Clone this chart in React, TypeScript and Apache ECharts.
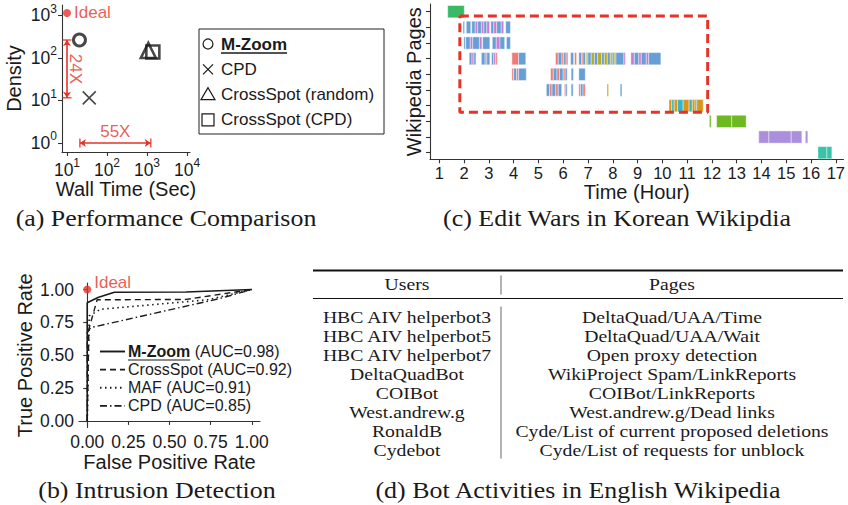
import React, { useEffect, useRef } from "react";
import * as echarts from "echarts";

// ---------------- (a) Performance comparison ----------------
const perfMethods = ["M-Zoom", "CPD", "CrossSpot (random)", "CrossSpot (CPD)"];
const perfWallTime = [20.5, 36, 1080, 1400];
const perfDensity = [265, 11.5, 150, 138];
const idealA = [10, 1150];
const speedupArrow = [[21, 1], [1240, 1]]; // 55X
const densityArrow = [[10, 11.6], [10, 265]]; // 24X
const speedupLabel = "55X";
const densityLabel = "24X";
const xTicksA = [10, 100, 1000, 10000];
const yTicksA = [1, 10, 100, 1000];

// ---------------- (b) ROC curves ----------------
const rocNames = ["M-Zoom", "CrossSpot", "MAF", "CPD"];
const rocAUC = ["0.98", "0.92", "0.91", "0.85"];
const rocMZoom = [[0, 0], [0, 0.9], [0.065, 0.94], [0.165, 0.98], [0.6, 0.982], [1, 1]];
const rocCrossSpot = [[0, 0], [0.01, 0.7], [0.06, 0.922], [0.6, 0.925], [1, 1]];
const rocMAF = [[0, 0], [0.012, 0.8], [0.08, 0.85], [0.73, 0.922], [1, 1]];
const rocCPD = [[0, 0], [0, 0.67], [0.02, 0.71], [0.8, 0.93], [1, 1]];
const idealB = [0, 1];
const rocTicks = [0, 0.25, 0.5, 0.75, 1];

// ---------------- (c) Edit wars (hour start, hour end, editor key) ----------------
const hourTicks = [1, 2, 3, 4, 5, 6, 7, 8, 9, 10, 11, 12, 13, 14, 15, 16, 17];
const pageRows = [1, 2, 3, 4, 5, 6, 7, 8, 9, 10];
const page1 = [[1.34, 2.01, "G"]];
const page2 = [
  [1.96, 2.02, "B"], [2.09, 2.27, "B"], [2.31, 2.45, "B"], [2.45, 2.55, "P"], [2.55, 2.7, "B"],
  [2.7, 2.8, "P"], [2.8, 2.92, "B"], [2.92, 3.03, "P"], [3.08, 3.2, "B"], [3.2, 3.32, "P"],
  [3.32, 3.5, "B"], [3.5, 3.6, "P"], [3.68, 3.87, "B"],
];
const page3 = [
  [1.99, 2.05, "B"], [2.07, 2.25, "B"], [2.25, 2.35, "P"], [2.35, 2.62, "B"], [2.62, 2.72, "P"],
  [2.75, 3.04, "B"], [3.14, 3.3, "B"], [3.3, 3.45, "P"], [3.45, 3.64, "B"], [3.71, 3.87, "B"],
];
const page4 = [
  [2.21, 2.32, "B"], [2.32, 2.4, "P"], [2.4, 2.48, "B"],
  [2.7, 2.85, "B"], [2.85, 2.92, "P"], [2.92, 3.04, "B"],
  [3.11, 3.2, "B"], [3.2, 3.28, "P"], [3.28, 3.33, "R"],
  [3.93, 4.2, "R"], [4.2, 4.49, "B"],
  [5.69, 5.8, "R"], [5.8, 5.95, "B"], [5.95, 6.02, "R"], [6.02, 6.12, "B"], [6.12, 6.19, "R"],
  [6.3, 6.42, "B"], [6.46, 6.54, "R"],
  [6.63, 6.75, "B"], [6.75, 6.8, "R"], [6.8, 6.9, "B"],
  [6.93, 7.0, "O"], [7.0, 7.13, "B"], [7.13, 7.26, "O"], [7.26, 7.39, "B"], [7.39, 7.55, "O"],
  [7.55, 7.66, "B"], [7.66, 7.78, "O"], [7.78, 7.9, "B"], [7.9, 7.98, "O"], [7.98, 8.06, "B"],
  [8.06, 8.13, "O"], [8.13, 8.45, "B"], [8.45, 8.51, "P"],
  [8.73, 8.87, "P"], [8.87, 9.05, "B"], [9.05, 9.15, "P"], [9.15, 9.35, "B"], [9.35, 9.45, "P"],
  [9.45, 9.94, "B"],
];
const page5 = [
  [3.93, 4.0, "R"], [4.0, 4.12, "B"], [4.12, 4.2, "R"], [4.2, 4.51, "B"],
  [5.49, 5.6, "R"], [5.6, 5.75, "B"], [5.75, 5.85, "R"], [5.85, 6.0, "B"], [6.0, 6.08, "R"],
  [6.08, 6.16, "B"], [6.32, 6.41, "B"], [6.63, 6.89, "B"],
];
const page6 = [
  [5.32, 5.45, "B"], [5.45, 5.55, "R"], [5.55, 5.7, "B"], [5.7, 5.8, "R"], [5.8, 5.94, "B"],
  [6.05, 6.1, "R"], [6.1, 6.16, "B"], [6.32, 6.4, "B"],
  [6.63, 6.7, "R"], [6.7, 6.8, "B"], [6.8, 6.89, "R"],
  [7.77, 7.82, "O"], [8.3, 8.37, "B"],
];
const page7 = [
  [10.27, 10.38, "N"], [10.38, 10.48, "T"], [10.48, 10.61, "N"], [10.61, 10.84, "T"],
  [10.84, 11.08, "N"], [11.08, 11.21, "T"], [11.21, 11.32, "N"], [11.32, 11.39, "T"], [11.39, 11.65, "N"],
];
const page8 = [[11.9, 11.97, "L"], [12.19, 12.8, "L"], [12.8, 13.38, "L"]];
const page9 = [[13.89, 14.3, "V"], [14.3, 15.2, "V"], [15.2, 15.63, "V"], [15.77, 15.87, "V"]];
const page10 = [[16.28, 16.64, "Q"], [16.64, 16.84, "Q"]];
const editWarBox = [1.83, 11.83, 1.27, 7.42]; // x0, x1, y0, y1

// ---------------- (d) Bot table ----------------
const tableHeaders = ["Users", "Pages"];
const botUsers = [
  "HBC AIV helperbot3", "HBC AIV helperbot5", "HBC AIV helperbot7", "DeltaQuadBot",
  "COIBot", "West.andrew.g", "RonaldB", "Cydebot",
];
const botPages = [
  "DeltaQuad/UAA/Time", "DeltaQuad/UAA/Wait", "Open proxy detection",
  "WikiProject Spam/LinkReports", "COIBot/LinkReports", "West.andrew.g/Dead links",
  "Cyde/List of current proposed deletions", "Cyde/List of requests for unblock",
];

const captions = [
  "(a) Performance Comparison",
  "(c) Edit Wars in Korean Wikipdia",
  "(b) Intrusion Detection",
  "(d) Bot Activities in English Wikipedia",
];

// ---------------- styling ----------------
const FONT = "'Liberation Sans', Arial, Helvetica, sans-serif";
const SERIF = "'Liberation Serif', 'Times New Roman', serif";
const RED = "#e5332a";
const INK = "#1a1a1a";
const PALETTE: Record<string, string> = {
  G: "#2db55d", B: "#5d9ad3", P: "#c675cf", R: "#ee7470", O: "#b3a51a",
  N: "#d9900c", T: "#2ab3c6", L: "#66b414", V: "#a689d9", Q: "#2dbfa3",
};

function measure(text: string, font: string): number {
  const c = document.createElement("canvas").getContext("2d");
  if (!c) return text.length * 8;
  c.font = font;
  return c.measureText(text).width;
}

function axisBase(extra: any) {
  return {
    axisLine: { show: true, lineStyle: { color: "#333", width: 1.1 } },
    splitLine: { show: false },
    nameLocation: "middle",
    nameTextStyle: { fontFamily: FONT, fontSize: 20, color: INK },
    ...extra,
  };
}

function tick(values: number[]) {
  return { show: true, length: 4, customValues: values, lineStyle: { color: "#333", width: 1.1 } };
}

export default function App() {
  const ref = useRef<HTMLDivElement>(null);

  useEffect(() => {
    if (!ref.current) return;
    const chart = echarts.init(ref.current, null, { renderer: "svg" });

    const logLabel = {
      customValues: [] as number[],
      margin: 5,
      formatter: (v: number) => `{b|10}{s|${Math.round(Math.log10(v))}}`,
      rich: {
        b: { fontFamily: FONT, fontSize: 17.5, color: INK },
        s: { fontFamily: FONT, fontSize: 12, color: INK, padding: [0, 0, 13, 0] },
      },
    };

    const segRows = [page1, page2, page3, page4, page5, page6, page7, page8, page9, page10];
    const segData: any[] = [];
    segRows.forEach((row, i) => {
      row.forEach((s: any) => {
        segData.push({ value: [s[0], s[1], pageRows[i]], itemStyle: { color: PALETTE[s[2]] } });
      });
    });

    const [bx0, bx1, by0, by1] = editWarBox;

    const rocSeries = [rocMZoom, rocCrossSpot, rocMAF, rocCPD];
    const rocDash: any[] = ["solid", [6, 4], [1.5, 3.5], [7, 3, 1.5, 3]];
    const rocWidth = [1.6, 1.4, 1.6, 1.4];

    // ---- legend (a) ----
    const legA: any[] = [
      { type: "rect", shape: { x: 199, y: 29, width: 185, height: 105 }, style: { fill: "#fff", stroke: "#222", lineWidth: 1 } },
    ];
    perfMethods.forEach((name, i) => {
      const cy = 44 + i * 25.3;
      const cx = 208;
      const st = { fill: "none", stroke: INK, lineWidth: 1.2 };
      if (i === 0) legA.push({ type: "circle", shape: { cx, cy, r: 5 }, style: st });
      if (i === 1) {
        legA.push({ type: "line", shape: { x1: cx - 5, y1: cy - 5, x2: cx + 5, y2: cy + 5 }, style: st });
        legA.push({ type: "line", shape: { x1: cx - 5, y1: cy + 5, x2: cx + 5, y2: cy - 5 }, style: st });
      }
      if (i === 2) legA.push({ type: "polygon", shape: { points: [[cx, cy - 7], [cx - 7, cy + 5], [cx + 7, cy + 5]] }, style: st });
      if (i === 3) legA.push({ type: "rect", shape: { x: cx - 6, y: cy - 6, width: 12, height: 12 }, style: st });
      const bold = i === 0;
      legA.push({
        type: "text", x: 221, y: cy,
        style: { text: name, fontFamily: FONT, fontSize: 17, fontWeight: bold ? "bold" : "normal", fill: INK, verticalAlign: "middle", align: "left" },
      });
      if (bold) {
        const w = measure(name, `bold 17px ${FONT}`);
        legA.push({ type: "line", shape: { x1: 221, y1: cy + 9, x2: 221 + w, y2: cy + 9 }, style: { stroke: INK, lineWidth: 1.3 } });
      }
    });

    // ---- legend (b) ----
    const legB: any[] = [];
    const lbFont = 16;
    rocNames.forEach((name, i) => {
      const cy = 351.5 + i * 18.1;
      legB.push({
        type: "line", shape: { x1: 100, y1: cy, x2: 125, y2: cy },
        style: { stroke: INK, lineWidth: rocWidth[i] + 0.3, lineDash: rocDash[i] === "solid" ? null : rocDash[i] },
      });
      const bold = i === 0;
      const nameFont = `${bold ? "bold " : ""}${lbFont}px ${FONT}`;
      const w = measure(name, nameFont);
      legB.push({
        type: "text", x: 128, y: cy,
        style: { text: name, fontFamily: FONT, fontSize: lbFont, fontWeight: bold ? "bold" : "normal", fill: INK, verticalAlign: "middle" },
      });
      legB.push({
        type: "text", x: 128 + w, y: cy,
        style: { text: ` (AUC=${rocAUC[i]})`, fontFamily: FONT, fontSize: lbFont, fill: INK, verticalAlign: "middle" },
      });
      if (bold) legB.push({ type: "line", shape: { x1: 128, y1: cy + 8.5, x2: 128 + w, y2: cy + 8.5 }, style: { stroke: INK, lineWidth: 1.2 } });
    });

    // ---- table (d) ----
    const tL = 313, tR = 843, sepX = 501, uC = 407, pC = 672;
    const topRule = 270.5, headY = 285, midRule = 298.5, row0 = 317.5, rowH = 19;
    const tFont = 16.3;
    const tScale = 1.21;
    const cellText = (x: number, y: number, text: string) => ({
      type: "text", x, y, scaleX: tScale,
      style: { text, fontFamily: SERIF, fontSize: tFont, fill: INK, align: "center", verticalAlign: "middle" },
    });
    const tbl: any[] = [
      { type: "line", shape: { x1: tL, y1: topRule, x2: tR, y2: topRule }, style: { stroke: "#111", lineWidth: 1.8 } },
      { type: "line", shape: { x1: tL, y1: midRule, x2: tR, y2: midRule }, style: { stroke: "#111", lineWidth: 1.1 } },
      { type: "line", shape: { x1: sepX, y1: topRule + 5, x2: sepX, y2: midRule - 4 }, style: { stroke: "#666", lineWidth: 1 } },
      { type: "line", shape: { x1: sepX, y1: midRule + 8, x2: sepX, y2: row0 + rowH * 7 + 8 }, style: { stroke: "#666", lineWidth: 1 } },
      cellText(uC, headY, tableHeaders[0]),
      cellText(pC, headY, tableHeaders[1]),
    ];
    botUsers.forEach((u, i) => {
      const y = row0 + i * rowH;
      tbl.push(cellText(uC, y, u));
      tbl.push(cellText(pC, y, botPages[i]));
    });

    // ---- captions ----
    const capPos = [[166, 218], [617, 218], [157, 490], [578, 490]];
    const caps = captions.map((t, i) => ({
      type: "text", x: capPos[i][0], y: capPos[i][1], scaleX: 1.08,
      style: { text: t, fontFamily: SERIF, fontSize: 24, fill: INK, align: "center", verticalAlign: "middle" },
    }));

    const geoMid = (a: number[][], k: number) => Math.sqrt(a[0][k] * a[1][k]);

    const option: any = {
      animation: false,
      backgroundColor: "#fff",
      textStyle: { fontFamily: FONT },
      grid: [
        { left: 62, top: 5, width: 128, height: 147 },
        { left: 79, top: 283, width: 181, height: 144.5 },
        { left: 430, top: 4, width: 415, height: 155.3 },
      ],
      xAxis: [
        axisBase({
          gridIndex: 0, type: "log", logBase: 10, min: 7.5, max: 11885,
          axisTick: tick(xTicksA), axisLabel: { ...logLabel, customValues: xTicksA },
          name: "Wall Time (Sec)", nameGap: 23,
        }),
        axisBase({
          gridIndex: 1, type: "value", min: -0.05, max: 1.05,
          axisTick: tick(rocTicks),
          axisLabel: { customValues: rocTicks, formatter: (v: number) => v.toFixed(2), fontFamily: FONT, fontSize: 17.5, color: INK, margin: 5 },
          name: "False Positive Rate", nameGap: 24,
        }),
        axisBase({
          gridIndex: 2, type: "value", min: 0.626, max: 17.31,
          axisTick: tick(hourTicks),
          axisLabel: { customValues: hourTicks, fontFamily: FONT, fontSize: 16.5, color: INK, margin: 5 },
          name: "Time (Hour)", nameGap: 21,
        }),
      ],
      yAxis: [
        axisBase({
          gridIndex: 0, type: "log", logBase: 10, min: 0.614, max: 1766,
          axisTick: tick(yTicksA), axisLabel: { ...logLabel, customValues: yTicksA },
          name: "Density", nameGap: 38,
        }),
        axisBase({
          gridIndex: 1, type: "value", min: -0.05, max: 1.05,
          axisTick: tick(rocTicks),
          axisLabel: { customValues: rocTicks, formatter: (v: number) => v.toFixed(2), fontFamily: FONT, fontSize: 17.5, color: INK, margin: 5 },
          name: "True Positive Rate", nameGap: 44,
        }),
        axisBase({
          gridIndex: 2, type: "value", inverse: true, min: 0.51, max: 10.42,
          axisTick: tick(pageRows), axisLabel: { show: false },
          name: "Wikipedia Pages", nameGap: 6,
        }),
      ],
      series: [
        // (a) methods
        {
          type: "scatter", xAxisIndex: 0, yAxisIndex: 0, name: perfMethods[0],
          data: [[perfWallTime[0], perfDensity[0]]], symbol: "circle", symbolSize: 12,
          itemStyle: { color: "transparent", borderColor: INK, borderWidth: 3 },
        },
        {
          type: "scatter", xAxisIndex: 0, yAxisIndex: 0, name: perfMethods[1],
          data: [[perfWallTime[1], perfDensity[1]]], symbol: "path://M0,0L10,10M10,0L0,10", symbolSize: 13,
          itemStyle: { color: "transparent", borderColor: INK, borderWidth: 1.6 },
        },
        {
          type: "scatter", xAxisIndex: 0, yAxisIndex: 0, name: perfMethods[2],
          data: [[perfWallTime[2], perfDensity[2]]], symbol: "triangle", symbolSize: 15,
          itemStyle: { color: "transparent", borderColor: INK, borderWidth: 2.6 },
        },
        {
          type: "scatter", xAxisIndex: 0, yAxisIndex: 0, name: perfMethods[3],
          data: [[perfWallTime[3], perfDensity[3]]], symbol: "rect", symbolSize: 13,
          itemStyle: { color: "transparent", borderColor: INK, borderWidth: 2.6 },
        },
        {
          type: "scatter", xAxisIndex: 0, yAxisIndex: 0, data: [idealA], symbolSize: 8,
          itemStyle: { color: RED },
          label: { show: true, position: "right", distance: 3, formatter: "Ideal", color: RED, fontFamily: FONT, fontSize: 17 },
        },
        // arrows (a)
        {
          type: "lines", coordinateSystem: "cartesian2d", xAxisIndex: 0, yAxisIndex: 0,
          symbol: ["arrow", "arrow"], symbolSize: 6,
          lineStyle: { color: RED, width: 1.6, opacity: 1 },
          data: [{ coords: speedupArrow }, { coords: densityArrow }],
        },
        {
          type: "scatter", xAxisIndex: 0, yAxisIndex: 0, symbol: "rect", symbolSize: [1.6, 9],
          itemStyle: { color: RED }, data: speedupArrow,
        },
        {
          type: "scatter", xAxisIndex: 0, yAxisIndex: 0, symbol: "rect", symbolSize: [9, 1.6],
          itemStyle: { color: RED }, data: densityArrow,
        },
        {
          type: "scatter", xAxisIndex: 0, yAxisIndex: 0, symbolSize: 0,
          data: [[geoMid(speedupArrow, 0), speedupArrow[0][1]]],
          label: { show: true, position: "inside", offset: [0, -11], formatter: speedupLabel, color: RED, fontFamily: FONT, fontSize: 17 },
        },
        {
          type: "scatter", xAxisIndex: 0, yAxisIndex: 0, symbolSize: 0,
          data: [[densityArrow[0][0], geoMid(densityArrow, 1)]],
          label: { show: true, position: "inside", offset: [0, -9], rotate: -90, formatter: densityLabel, color: RED, fontFamily: FONT, fontSize: 17 },
        },
        // (b) ROC
        ...rocSeries.map((d, i) => ({
          type: "line", xAxisIndex: 1, yAxisIndex: 1, name: rocNames[i], data: d,
          symbol: "none", lineStyle: { color: INK, width: rocWidth[i], type: rocDash[i] },
        })),
        {
          type: "scatter", xAxisIndex: 1, yAxisIndex: 1, data: [idealB], symbolSize: 8,
          itemStyle: { color: RED },
          label: { show: true, position: "right", distance: 3, offset: [0, -7], formatter: "Ideal", color: RED, fontFamily: FONT, fontSize: 17 },
        },
        // (c) edits
        {
          type: "custom", xAxisIndex: 2, yAxisIndex: 2, data: segData,
          renderItem: (params: any, api: any) => {
            const s = api.coord([api.value(0), api.value(2)]);
            const e = api.coord([api.value(1), api.value(2)]);
            const h = api.size([0, 1])[1] * 0.78;
            return {
              type: "rect",
              shape: { x: s[0], y: s[1] - h / 2, width: Math.max(1.5, e[0] - s[0]), height: h },
              style: { fill: api.visual("color"), stroke: "rgba(255,255,255,0.55)", lineWidth: 0.8, opacity: 0.95 },
            };
          },
        },
        {
          type: "line", xAxisIndex: 2, yAxisIndex: 2, symbol: "none",
          data: [[bx0, by0], [bx1, by0], [bx1, by1], [bx0, by1], [bx0, by0]],
          lineStyle: { color: RED, width: 3, type: [9, 5] },
        },
      ],
      graphic: [...legA, ...legB, ...tbl, ...caps],
    };

    chart.setOption(option);
    return () => chart.dispose();
  }, []);

  return (
    <div
      ref={ref}
      style={{ position: "fixed", left: 0, top: 0, width: 848, height: 505, background: "#fff" }}
    />
  );
}
